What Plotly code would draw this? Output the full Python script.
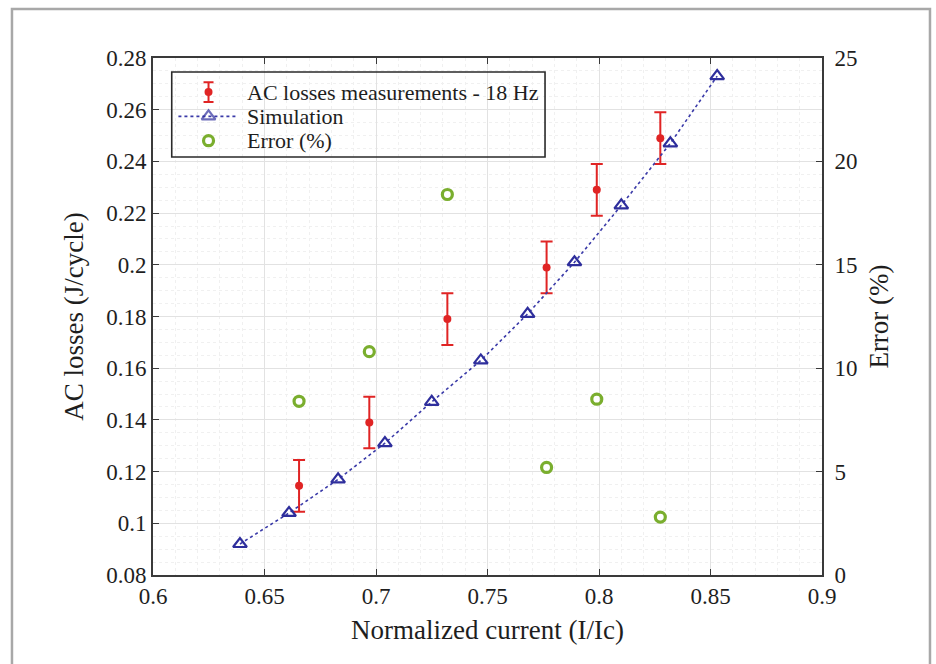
import plotly.graph_objects as go

# Simulated AC losses (J/cycle) vs normalized current
sim_current = [0.639, 0.661, 0.683, 0.704, 0.725, 0.747, 0.768, 0.789, 0.810, 0.832, 0.853]
sim_losses = [0.092, 0.104, 0.117, 0.131, 0.147, 0.163, 0.181, 0.201, 0.223, 0.247, 0.273]

# Measured AC losses at 18 Hz with their uncertainty
meas_current = [0.6655, 0.697, 0.732, 0.7765, 0.799, 0.8275]
meas_losses = [0.1145, 0.139, 0.179, 0.199, 0.229, 0.249]
meas_err = [0.01, 0.01, 0.01, 0.01, 0.01, 0.01]

# Relative error between measurement and simulation (%)
error_pct = [8.4, 10.8, 18.4, 5.2, 8.5, 2.8]

x_ticks = [0.6, 0.65, 0.7, 0.75, 0.8, 0.85, 0.9]
x_tick_labels = ["0.6", "0.65", "0.7", "0.75", "0.8", "0.85", "0.9"]
y_ticks = [0.08, 0.1, 0.12, 0.14, 0.16, 0.18, 0.2, 0.22, 0.24, 0.26, 0.28]
y_tick_labels = ["0.08", "0.1", "0.12", "0.14", "0.16", "0.18", "0.2", "0.22", "0.24", "0.26", "0.28"]
y2_ticks = [0, 5, 10, 15, 20, 25]

legend_labels = ["AC losses measurements - 18 Hz", "Simulation", "Error (%)"]

FONT = "Liberation Serif"
AXIS_COLOR = "#3a3a3a"
TEXT_COLOR = "#1e1e1e"
RED = "#e02424"
BLUE = "#2e2e9c"
GREEN = "#7aae2e"

# Legend box geometry in plot-area fractions
LEG_X0, LEG_X1 = 0.028, 0.586
LEG_Y0, LEG_Y1 = 0.8085, 0.973
LEG_ROWS = [0.934, 0.887, 0.840]
LEG_KEY_X = 0.083
LEG_LINE = (0.038, 0.126)
LEG_TEXT_X = 0.1375

fig = go.Figure()

fig.add_trace(go.Scatter(
    x=meas_current, y=meas_losses, mode="markers",
    marker=dict(symbol="circle", size=8, color=RED),
    error_y=dict(type="data", array=meas_err, visible=True,
                 color=RED, thickness=2, width=6),
    yaxis="y", showlegend=False,
))

fig.add_trace(go.Scatter(
    x=sim_current, y=sim_losses, mode="lines+markers",
    line=dict(color="#3a3aa8", width=1.6, dash="dot"),
    marker=dict(symbol="triangle-up-open", size=12, color=BLUE,
                line=dict(width=2.2, color=BLUE)),
    yaxis="y", showlegend=False,
))

fig.add_trace(go.Scatter(
    x=meas_current, y=error_pct, mode="markers",
    marker=dict(symbol="circle-open", size=10, color=GREEN,
                line=dict(width=3.2, color=GREEN)),
    yaxis="y2", showlegend=False,
))

# Legend keys, drawn on a hidden 0..1 overlay axis pair
fig.add_trace(go.Scatter(
    x=[LEG_KEY_X], y=[LEG_ROWS[0]], mode="markers",
    marker=dict(symbol="circle", size=8, color=RED),
    error_y=dict(type="constant", value=0.019, visible=True,
                 color=RED, thickness=2, width=5),
    xaxis="x3", yaxis="y3", showlegend=False, hoverinfo="skip",
))
fig.add_trace(go.Scatter(
    x=[LEG_LINE[0], LEG_KEY_X, LEG_LINE[1]], y=[LEG_ROWS[1]] * 3,
    mode="lines+markers",
    line=dict(color="#3a3aa8", width=1.6, dash="dot"),
    marker=dict(symbol="triangle-up-open", size=[0, 12, 0], color=BLUE,
                line=dict(width=2.2, color=BLUE)),
    xaxis="x3", yaxis="y3", showlegend=False, hoverinfo="skip",
))
fig.add_trace(go.Scatter(
    x=[LEG_KEY_X], y=[LEG_ROWS[2]], mode="markers",
    marker=dict(symbol="circle-open", size=10, color=GREEN,
                line=dict(width=3.2, color=GREEN)),
    xaxis="x3", yaxis="y3", showlegend=False, hoverinfo="skip",
))

annotations = [
    dict(text=lbl, x=LEG_TEXT_X, y=row, xref="paper", yref="paper",
         xanchor="left", yanchor="middle", showarrow=False,
         font=dict(family=FONT, size=22, color=TEXT_COLOR))
    for lbl, row in zip(legend_labels, LEG_ROWS)
]

fig.update_layout(
    width=936, height=664,
    margin=dict(l=153, r=114, t=58, b=89),
    paper_bgcolor="white",
    plot_bgcolor="white",
    font=dict(family=FONT, size=23, color=TEXT_COLOR),
    showlegend=False,
    xaxis=dict(
        range=[0.6, 0.9], tickvals=x_ticks, ticktext=x_tick_labels,
        showline=True, linecolor=AXIS_COLOR, linewidth=1.6, mirror="ticks",
        ticks="inside", ticklen=6, tickcolor=AXIS_COLOR,
        showgrid=True, gridcolor="#e2e2e2", gridwidth=1,
        minor=dict(dtick=0.01, showgrid=True, gridcolor="#f0f0f0", griddash="dot"),
        zeroline=False,
        title=dict(text="Normalized current (I/Ic)", font=dict(size=27), standoff=12),
    ),
    yaxis=dict(
        range=[0.08, 0.28], tickvals=y_ticks, ticktext=y_tick_labels,
        showline=True, linecolor=AXIS_COLOR, linewidth=1.6,
        ticks="inside", ticklen=6, tickcolor=AXIS_COLOR,
        showgrid=True, gridcolor="#e2e2e2", gridwidth=1,
        minor=dict(dtick=0.005, showgrid=True, gridcolor="#f0f0f0", griddash="dot"),
        zeroline=False,
        title=dict(text="AC losses (J/cycle)", font=dict(size=27), standoff=15),
    ),
    yaxis2=dict(
        range=[0, 25], tickvals=y2_ticks, overlaying="y", side="right",
        showline=True, linecolor=AXIS_COLOR, linewidth=1.6,
        ticks="inside", ticklen=6, tickcolor=AXIS_COLOR, ticklabelstandoff=6,
        showgrid=False, zeroline=False,
        title=dict(text="Error (%)", font=dict(size=27), standoff=13),
    ),
    xaxis3=dict(range=[0, 1], overlaying="x", visible=False, fixedrange=True),
    yaxis3=dict(range=[0, 1], overlaying="y", visible=False, fixedrange=True),
    annotations=annotations,
    shapes=[
        dict(type="rect", xref="paper", yref="paper",
             x0=-0.2108, x1=1.1614, y0=-0.19, y1=1.0948,
             line=dict(color="#a8a8a8", width=2.5), fillcolor="rgba(0,0,0,0)",
             layer="below"),
        # legend background, under the keys
        dict(type="rect", xref="paper", yref="paper",
             x0=LEG_X0, x1=LEG_X1, y0=LEG_Y0, y1=LEG_Y1,
             line=dict(width=0), fillcolor="white", layer="between"),
        # legend frame, on top
        dict(type="rect", xref="paper", yref="paper",
             x0=LEG_X0, x1=LEG_X1, y0=LEG_Y0, y1=LEG_Y1,
             line=dict(color="#2a2a2a", width=1.6), fillcolor="rgba(0,0,0,0)",
             layer="above"),
    ],
)

fig.write_html("out.html")
